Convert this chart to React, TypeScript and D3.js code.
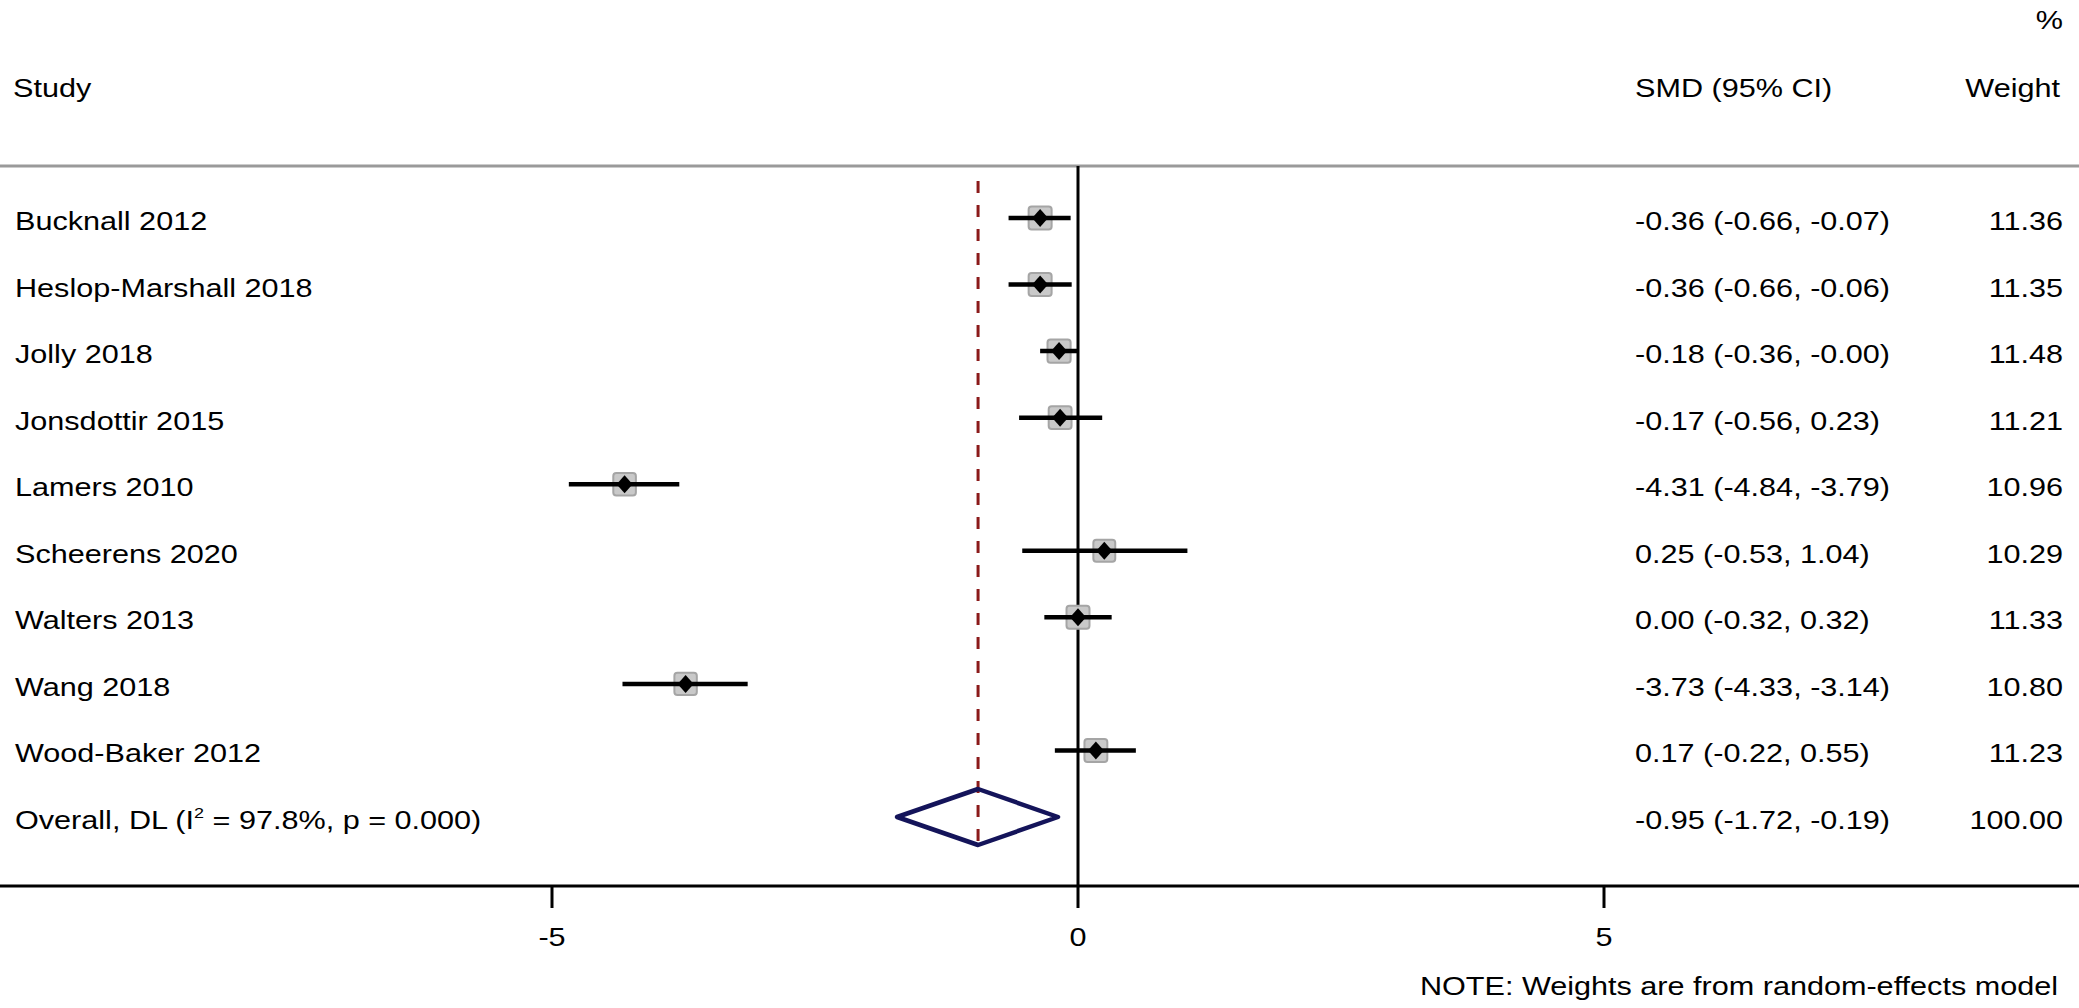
import React, { useRef, useEffect } from "react";
import * as d3 from "d3";

const studies = [
  "Bucknall 2012",
  "Heslop-Marshall 2018",
  "Jolly 2018",
  "Jonsdottir 2015",
  "Lamers 2010",
  "Scheerens 2020",
  "Walters 2013",
  "Wang 2018",
  "Wood-Baker 2012",
];
const smd = [-0.36, -0.36, -0.18, -0.17, -4.31, 0.25, 0.0, -3.73, 0.17];
const lower = [-0.66, -0.66, -0.36, -0.56, -4.84, -0.53, -0.32, -4.33, -0.22];
// Jolly's upper bound prints as -0.00 in the source
const upper = [-0.07, -0.06, -0.0, 0.23, -3.79, 1.04, 0.32, -3.14, 0.55];
const weights = [11.36, 11.35, 11.48, 11.21, 10.96, 10.29, 11.33, 10.8, 11.23];

const overall = { es: -0.95, lo: -1.72, hi: -0.19, weight: 100.0 };
const overallI2 = "97.8%";
const overallP = "0.000";

const xTicks = [-5, 0, 5];

const f2 = d3.format(".2f");
// keep the sign on negative zero, like Stata does
const fmt = (v: number) =>
  v < 0 || Object.is(v, -0) ? "-" + f2(Math.abs(v)) : f2(v);
const fmtCI = (es: number, lo: number, hi: number) =>
  `${fmt(es)} (${fmt(lo)}, ${fmt(hi)})`;

const W = 2079;
const H = 1008;
const FONT = "Arial, 'Liberation Sans', sans-serif";
const FS = 25.5;
const SX = 1.2;

const ForestPlot: React.FC = () => {
  const ref = useRef<SVGSVGElement | null>(null);

  useEffect(() => {
    const svg = d3.select(ref.current);
    svg.selectAll("*").remove();
    svg.attr("width", W).attr("height", H);

    const x = d3.scaleLinear().domain([-5, 5]).range([552, 1604]);
    const rows = [...studies, "Overall"];
    const y = d3.scalePoint<string>().domain(rows).range([218, 817]);
    const box = d3.scaleSqrt().domain([0, 11.36]).range([0, 23]);

    const headerY = 166;
    const axisY = 886;

    const text = (
      s: string,
      tx: number,
      ty: number,
      anchor: string = "start"
    ) =>
      svg
        .append("text")
        .attr("transform", `translate(${tx},${ty}) scale(${SX},1)`)
        .attr("text-anchor", anchor)
        .style("font-family", FONT)
        .style("font-size", `${FS}px`)
        .style("fill", "#000")
        .text(s);

    // header
    text("%", 2063, 29, "end");
    text("Study", 13, 97);
    text("SMD (95% CI)", 1635, 97);
    text("Weight", 2060, 97, "end");

    svg
      .append("line")
      .attr("x1", 0)
      .attr("x2", W)
      .attr("y1", headerY)
      .attr("y2", headerY)
      .style("stroke", "#9a9a9a")
      .style("stroke-width", 3);

    // null line
    svg
      .append("line")
      .attr("x1", x(0))
      .attr("x2", x(0))
      .attr("y1", headerY)
      .attr("y2", axisY)
      .style("stroke", "#000")
      .style("stroke-width", 3);

    // overall effect dashed line
    svg
      .append("line")
      .attr("x1", x(overall.es))
      .attr("x2", x(overall.es))
      .attr("y1", 181)
      .attr("y2", 852)
      .style("stroke", "#8b1a1a")
      .style("stroke-width", 3)
      .style("stroke-dasharray", "12,12");

    // study rows
    const g = svg.append("g");
    studies.forEach((name, i) => {
      const cy = y(name) as number;
      const s = box(weights[i]);
      g.append("rect")
        .attr("x", x(smd[i]) - s / 2)
        .attr("y", cy - s / 2)
        .attr("width", s)
        .attr("height", s)
        .attr("rx", 3)
        .style("fill", "#c9c9c9")
        .style("stroke", "#a5a5a5")
        .style("stroke-width", 2);
      g.append("line")
        .attr("x1", x(lower[i]))
        .attr("x2", x(upper[i]))
        .attr("y1", cy)
        .attr("y2", cy)
        .style("stroke", "#000")
        .style("stroke-width", 4.5);
      const px = x(smd[i]);
      g.append("path")
        .attr(
          "d",
          `M${px},${cy - 9}L${px + 8},${cy}L${px},${cy + 9}L${px - 8},${cy}Z`
        )
        .style("fill", "#000");

      text(name, 15, cy + 12);
      text(fmtCI(smd[i], lower[i], upper[i]), 1635, cy + 12);
      text(f2(weights[i]), 2063, cy + 12, "end");
    });

    // overall diamond
    const oy = y("Overall") as number;
    const dh = 28;
    svg
      .append("path")
      .attr(
        "d",
        `M${x(overall.lo)},${oy}L${x(overall.es)},${oy - dh}L${x(
          overall.hi
        )},${oy}L${x(overall.es)},${oy + dh}Z`
      )
      .style("fill", "none")
      .style("stroke", "#14145a")
      .style("stroke-width", 4.5)
      .style("stroke-linejoin", "round");

    const ot = text("", 15, oy + 12);
    ot.append("tspan").text("Overall, DL (I");
    ot.append("tspan")
      .attr("dy", -11)
      .style("font-size", "15px")
      .text("2");
    ot.append("tspan")
      .attr("dy", 11)
      .text(` = ${overallI2}, p = ${overallP})`);
    text(fmtCI(overall.es, overall.lo, overall.hi), 1635, oy + 12);
    text(f2(overall.weight), 2063, oy + 12, "end");

    // x axis
    svg
      .append("line")
      .attr("x1", 0)
      .attr("x2", W)
      .attr("y1", axisY)
      .attr("y2", axisY)
      .style("stroke", "#000")
      .style("stroke-width", 3);

    xTicks.forEach((t) => {
      svg
        .append("line")
        .attr("x1", x(t))
        .attr("x2", x(t))
        .attr("y1", axisY)
        .attr("y2", axisY + 22)
        .style("stroke", "#000")
        .style("stroke-width", 3);
      text(String(t), x(t), 946, "middle");
    });

    text("NOTE: Weights are from random-effects model", 2058, 995, "end");
  }, []);

  return (
    <svg
      ref={ref}
      style={{ position: "absolute", left: 0, top: 0, background: "#fff" }}
    />
  );
};

export default function App() {
  return <ForestPlot />;
}
